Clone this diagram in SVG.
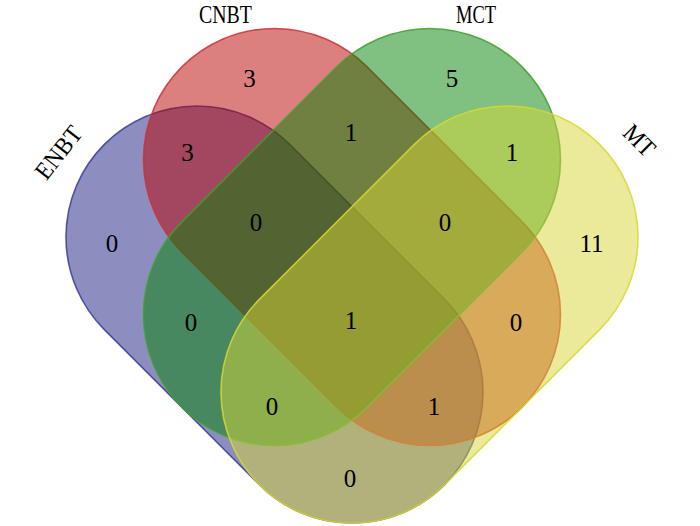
<svg xmlns="http://www.w3.org/2000/svg" width="700" height="526" viewBox="0 0 700 526">
<style>
.set{fill-opacity:0.5;stroke-width:1.6;stroke-opacity:0.85}
.lbl{font-family:"Liberation Serif","DejaVu Serif",serif;font-size:25px;fill:#000;text-anchor:middle}
.num{font-family:"Liberation Serif","DejaVu Serif",serif;font-size:25px;fill:#000;text-anchor:middle}
</style>
<rect width="700" height="526" fill="#fff"/>
<g id="ENBT">
<rect class="set" x="33.9" y="183.5" width="481.2" height="262" rx="131" ry="131" transform="rotate(45 274.5 314.5)" fill="#1a1e82" stroke="#3a3c9c"/>
<text class="lbl" transform="translate(58,152) rotate(-52)" y="9" textLength="60" lengthAdjust="spacingAndGlyphs">ENBT</text>
</g>
<g id="CNBT">
<rect class="set" x="111.4" y="106" width="481.2" height="262" rx="131" ry="131" transform="rotate(45 352 237)" fill="#ba0000" stroke="#d03030"/>
<text class="lbl" x="225.5" y="23" textLength="53" lengthAdjust="spacingAndGlyphs">CNBT</text>
</g>
<g id="MCT">
<rect class="set" x="111.4" y="106" width="481.2" height="262" rx="131" ry="131" transform="rotate(-45 352 237)" fill="#018101" stroke="#40a030"/>
<text class="lbl" x="476" y="23" textLength="40" lengthAdjust="spacingAndGlyphs">MCT</text>
</g>
<g id="MT">
<rect class="set" x="188.9" y="183.5" width="481.2" height="262" rx="131" ry="131" transform="rotate(-45 429.5 314.5)" fill="#d5d535" stroke="#d8d830"/>
<text class="lbl" transform="translate(640,140) rotate(45)" y="9" textLength="34" lengthAdjust="spacingAndGlyphs">MT</text>
</g>
<g id="counts">
<text class="num" x="249.5" y="87">3</text>
<text class="num" x="452" y="87">5</text>
<text class="num" x="187.5" y="161">3</text>
<text class="num" x="351" y="141">1</text>
<text class="num" x="512" y="161">1</text>
<text class="num" x="112" y="252">0</text>
<text class="num" x="256" y="231">0</text>
<text class="num" x="445" y="231">0</text>
<text class="num" x="591.5" y="252">11</text>
<text class="num" x="191" y="331">0</text>
<text class="num" x="351" y="329">1</text>
<text class="num" x="516" y="331">0</text>
<text class="num" x="272" y="415">0</text>
<text class="num" x="434" y="415">1</text>
<text class="num" x="350" y="487">0</text>
</g>
</svg>
